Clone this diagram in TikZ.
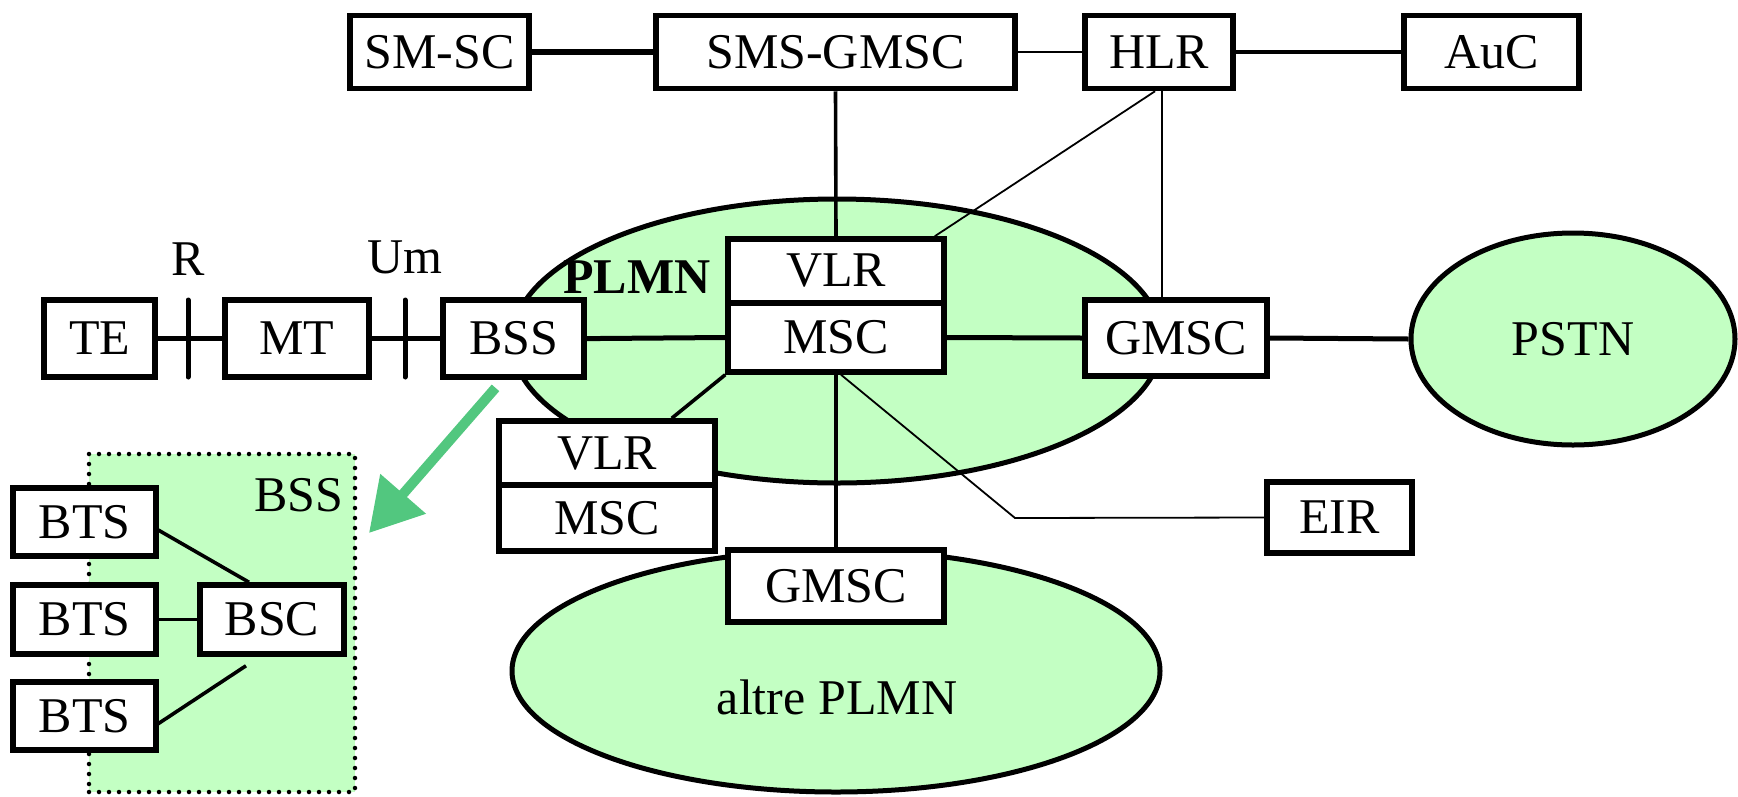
\documentclass[tikz,border=0pt]{standalone}
\usepackage{fontspec}
\setmainfont{Liberation Serif}
\usetikzlibrary{shapes.geometric,arrows.meta}
\definecolor{netgreen}{RGB}{195,255,195}
\definecolor{arrowgreen}{RGB}{82,199,127}
\begin{document}
\begin{tikzpicture}[x=1pt,y=-1pt,
  font=\fontsize{50}{56}\selectfont,
  box/.style={draw, line width=5.5pt, fill=white, inner sep=0pt},
  cloud/.style={ellipse, draw, line width=5pt, fill=netgreen, inner sep=0pt},
  heavy/.style={line width=5pt},
  medium/.style={line width=3.6pt},
  light/.style={line width=1.8pt},
  dotframe/.style={draw, fill=netgreen, line width=4.5pt, dash pattern=on 0pt off 10pt, line cap=round, inner sep=0pt}
]
\useasboundingbox (0,0) rectangle (1738,796);

% networks
\node[cloud, minimum width=650pt, minimum height=284pt] (plmn) at (837,341) {};
\node[cloud, minimum width=648pt, minimum height=242pt] (altre) at (836,671) {};
\node[cloud, minimum width=324pt, minimum height=212pt] (pstn) at (1573,339) {PSTN};

% BSS detail area
\node[dotframe, minimum width=266pt, minimum height=338pt] (bssarea) at (222,623) {};

% labels
\node[font=\fontsize{50}{56}\selectfont\bfseries] (plmnlabel) at (637,277) {PLMN};
\node (altrelabel) at (837,697) {altre PLMN};
\node[anchor=east] (bsslabel) at (347,495) {BSS};
\node (rlabel) at (188,259) {R};
\node (umlabel) at (405,257) {Um};

% top row
\node[box, minimum width=179pt, minimum height=73pt] (smsc) at (439.5,52) {SM-SC};
\node[box, minimum width=359pt, minimum height=73pt] (smsgmsc) at (835.5,52) {SMS-GMSC};
\node[box, minimum width=148pt, minimum height=73pt] (hlr) at (1159,52) {HLR};
\node[box, minimum width=175pt, minimum height=73pt] (auc) at (1491.5,52) {AuC};

% access chain
\node[box, minimum width=111pt, minimum height=77pt] (te) at (99.7,338.6) {TE};
\node[box, minimum width=144pt, minimum height=77pt] (mt) at (297,338.6) {MT};
\node[box, minimum width=141pt, minimum height=77pt] (bss) at (513.5,338.6) {BSS};

% core
\node[box, minimum width=216pt, minimum height=64pt] (vlr) at (836,271) {VLR};
\node[box, minimum width=216pt, minimum height=69pt] (msc) at (836,337.5) {MSC};
\node[box, minimum width=182pt, minimum height=76pt] (gmsc) at (1176,338) {GMSC};
\node[box, minimum width=216pt, minimum height=64pt] (vlrb) at (607,453) {VLR};
\node[box, minimum width=216pt, minimum height=66pt] (mscb) at (607,518) {MSC};
\node[box, minimum width=216pt, minimum height=72pt] (gmscb) at (836,586) {GMSC};
\node[box, minimum width=145pt, minimum height=71pt] (eir) at (1339.5,517.5) {EIR};

% BSS internals
\node[box, minimum width=143pt, minimum height=68pt] (btsa) at (84.5,522) {BTS};
\node[box, minimum width=143pt, minimum height=69pt] (btsb) at (84.5,619.5) {BTS};
\node[box, minimum width=143pt, minimum height=68pt] (btsc) at (84.5,716) {BTS};
\node[box, minimum width=144pt, minimum height=69pt] (bsc) at (272,619.5) {BSC};

% top row links
\draw[line width=5.5pt] (smsc.east) -- (smsgmsc.west);
\draw[light] (smsgmsc.east) -- (hlr.west);
\draw[medium] (hlr.east) -- (auc.west);
\draw[medium] (smsgmsc.south) -- (vlr.north);
\draw[light] ([xshift=-4pt]hlr.south) -- ([xshift=-12pt]vlr.north east);
\draw[light] ([xshift=3pt]hlr.south) -- ([xshift=3pt]hlr.south |- gmsc.north);

% access chain links with interface marks
\draw[heavy] (te.east) -- (mt.west);
\draw[heavy] (mt.east) -- (bss.west);
\coordinate (rtop) at (188,300);
\coordinate (rbot) at (188,377);
\coordinate (umtop) at (405,300);
\coordinate (umbot) at (405,377);
\draw[heavy, line cap=round] (rtop) -- (rbot);
\draw[heavy, line cap=round] (umtop) -- (umbot);

% core links
\draw[heavy] (bss.east) -- (msc.west);
\draw[heavy] (msc.east) -- (gmsc.west);
\draw[heavy] (gmsc.east) -- (pstn.west);
\draw[medium] (msc.south west) -- ([xshift=-46pt]vlrb.north east);
\draw[medium] (msc.south) -- (gmscb.north);
\coordinate (eirbend) at (1015,518);
\draw[light] ([xshift=5pt]msc.south) -- (eirbend) -- (eir.west);

% BSS internal links
\draw[medium] ([xshift=-4pt,yshift=-6pt]btsa.east) -- ([xshift=-23pt]bsc.north);
\draw[medium] (btsb.east) -- (bsc.west);
\draw[medium] ([xshift=-26pt,yshift=-9pt]bsc.south) -- ([xshift=-4pt,yshift=-10pt]btsc.east);

% zoom arrow
\coordinate (arrowtip) at (369,533);
\draw[line width=10pt, arrowgreen, -{Triangle[width=58pt,length=52pt]}] ([xshift=-18pt,yshift=-8pt]bss.south) -- (arrowtip);
\end{tikzpicture}
\end{document}
